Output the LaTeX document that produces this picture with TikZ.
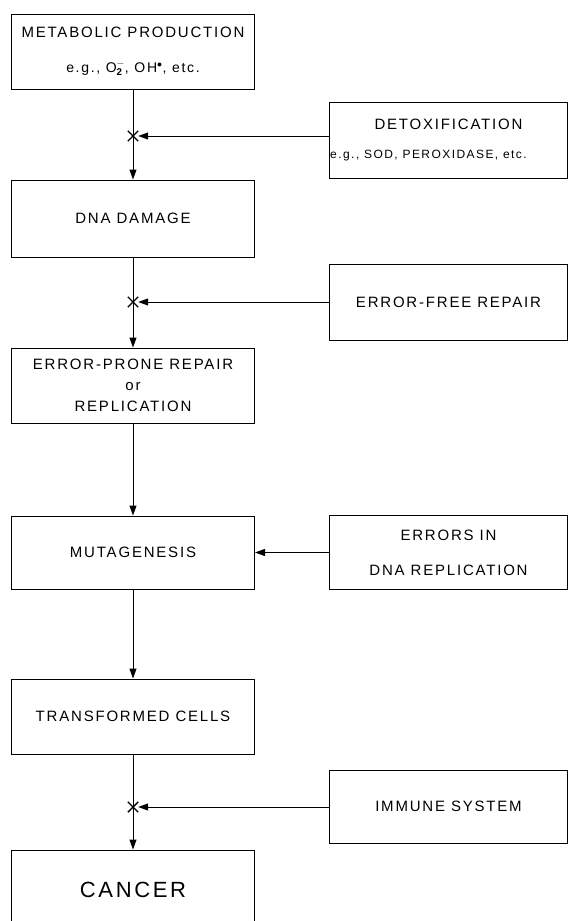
\documentclass[tikz,border=0pt]{standalone}
\usepackage{fontspec}
\setmainfont{Liberation Sans}[LetterSpace=12]
\usetikzlibrary{arrows.meta,shapes.misc}

\tikzset{
  box/.style={draw,line width=1pt,minimum width=243pt,minimum height=75pt,inner sep=2pt,align=center,font=\fontsize{15}{18}\selectfont},
  sidebox/.style={box,minimum width=238pt},
  block/.style={cross out,draw,line width=1.4pt,minimum size=9pt,inner sep=0pt},
  flow/.style={line width=1pt,-{Triangle[length=10pt,width=7pt]}}
}

\begin{document}
\begin{tikzpicture}[x=1pt,y=-1pt]
  \useasboundingbox (0,0) rectangle (570,921); \clip (0,0) rectangle (570,921);
  % main chain
  \node[box] (meta) at (133,51.5) {METABOLIC PRODUCTION\\[17pt]\fontsize{14}{16}\selectfont e.g., O$_{\mathbf{2}}^{-}$, OH$^{\bullet}$, etc.};
  \node[box,minimum height=77pt] (dna) at (133,218.5) {DNA DAMAGE};
  \node[box] (prone) at (133,385.5) {ERROR-PRONE REPAIR\\[3pt]or\\[3pt]REPLICATION};
  \node[box,minimum height=73pt] (mut) at (133,552.5) {MUTAGENESIS};
  \node[box] (trans) at (133,716.5) {TRANSFORMED CELLS};
  \node[box,minimum height=80pt,font=\fontsize{22}{26}\selectfont] (cancer) at (133,890) {CANCER};
  % side boxes
  \node[sidebox,minimum height=76pt] (detox) at (448.5,140) {DETOXIFICATION\\[11pt]\fontsize{12}{14}\selectfont\hspace*{-40pt}e.g., SOD, PEROXIDASE, etc.};
  \node[sidebox,minimum height=76pt] (free) at (448.5,302) {ERROR-FREE REPAIR};
  \node[sidebox,minimum height=74pt] (errs) at (448.5,552.5) {ERRORS IN\\[17pt]DNA REPLICATION};
  \node[sidebox,minimum height=73pt] (immune) at (448.5,806.5) {IMMUNE SYSTEM};
  % blocking points
  \node[block] (x1) at (133,136) {}; \node[block] (x2) at (133,302) {}; \node[block] (x3) at (133,807) {};
  % connectors
  \draw[line width=1pt] (meta) -- (x1.center); \draw[flow] (x1.center) -- (dna);
  \draw[line width=1pt] (dna) -- (x2.center); \draw[flow] (x2.center) -- (prone);
  \draw[flow] (prone) -- (mut); \draw[flow] (mut) -- (trans);
  \draw[line width=1pt] (trans) -- (x3.center); \draw[flow] (x3.center) -- (cancer);
  \draw[flow] (x1 -| detox.west) -- (x1); \draw[flow] (x2 -| free.west) -- (x2);
  \draw[flow] (errs) -- (mut); \draw[flow] (x3 -| immune.west) -- (x3);
\end{tikzpicture}
\end{document}
